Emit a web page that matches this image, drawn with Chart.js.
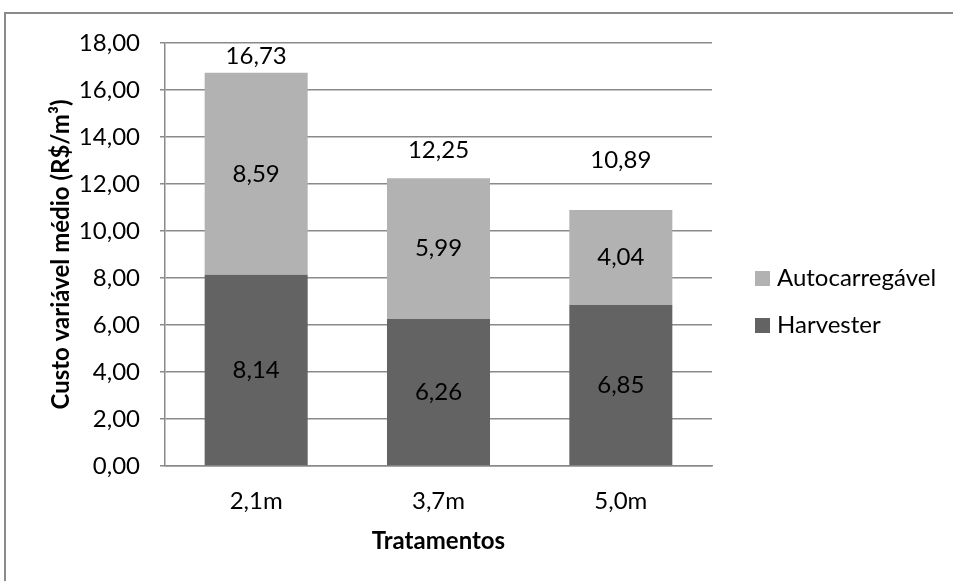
<!DOCTYPE html>
<html>
<head>
<meta charset="utf-8">
<script src="https://cdn.jsdelivr.net/npm/chart.js@4"></script>
<style>
  html, body { margin: 0; padding: 0; background: #fff; }
  #wrap { width: 953px; height: 581px; position: relative; }
</style>
</head>
<body>
<div id="wrap"><canvas id="myChart"></canvas></div>
<script>
const categories = ['2,1m', '3,7m', '5,0m'];
const harvester = [8.14, 6.26, 6.85];
const autocarregavel = [8.59, 5.99, 4.04];
const totals = [16.73, 12.25, 10.89];
const yTicks = [0, 2, 4, 6, 8, 10, 12, 14, 16, 18];

const FONT = 'Lato, "Open Sans", sans-serif';
const fmt = v => v.toFixed(2).replace('.', ',');

// total labels sit a bit above each bar, like the original
const totalLift = [17, 28, 50];

const framePlugin = {
  id: 'frame',
  beforeDraw(chart) {
    const ctx = chart.ctx;
    ctx.save();
    ctx.fillStyle = '#fff';
    ctx.fillRect(0, 0, chart.width, chart.height);
    ctx.strokeStyle = '#8a8a8a';
    ctx.lineWidth = 2;
    ctx.strokeRect(5, 13, 1100, 1100);
    ctx.restore();
  }
};

const labelPlugin = {
  id: 'labels',
  afterDatasetsDraw(chart) {
    const ctx = chart.ctx;
    ctx.save();
    ctx.font = '24px ' + FONT;
    ctx.fillStyle = '#000';
    ctx.textAlign = 'center';
    ctx.textBaseline = 'middle';
    chart.data.datasets.forEach((ds, di) => {
      const meta = chart.getDatasetMeta(di);
      meta.data.forEach((bar, i) => {
        ctx.fillText(fmt(ds.data[i]), bar.x, (bar.y + bar.base) / 2);
      });
    });
    const top = chart.getDatasetMeta(1).data;
    top.forEach((bar, i) => {
      ctx.fillText(fmt(totals[i]), bar.x, bar.y - totalLift[i]);
    });
    ctx.restore();
  }
};

const legendPlugin = {
  id: 'sideLegend',
  afterDraw(chart) {
    const ctx = chart.ctx;
    const items = [chart.data.datasets[1], chart.data.datasets[0]];
    ctx.save();
    ctx.font = '24px ' + FONT;
    ctx.textAlign = 'left';
    ctx.textBaseline = 'middle';
    items.forEach((ds, k) => {
      const y = 278 + k * 47;
      ctx.fillStyle = ds.backgroundColor;
      ctx.fillRect(755, y - 7, 15, 15);
      ctx.fillStyle = '#000';
      ctx.fillText(ds.label, 777, y);
    });
    ctx.restore();
  }
};

const ctx = document.getElementById('myChart').getContext('2d');
const myChart = new Chart(ctx, {
  type: 'bar',
  data: {
    labels: categories,
    datasets: [{
      label: 'Harvester',
      data: harvester,
      backgroundColor: '#636363'
    }, {
      label: 'Autocarregável',
      data: autocarregavel,
      backgroundColor: '#b2b2b2'
    }]
  },
  options: {
    responsive: true,
    maintainAspectRatio: false,
    animation: false,
    layout: { padding: { left: 30, top: 43, right: 241, bottom: 10 } },
    plugins: { legend: { display: false }, tooltip: { enabled: false } },
    datasets: { bar: { categoryPercentage: 1, barPercentage: 0.565 } },
    scales: {
      x: {
        stacked: true,
        grid: { display: false, drawTicks: false },
        border: { display: true, color: '#8a8a8a', width: 1.5 },
        ticks: { color: '#000', font: { family: FONT, size: 24 }, padding: 21 },
        title: {
          display: true, text: 'Tratamentos', color: '#000',
          font: { family: FONT, size: 24, weight: 'bold' },
          padding: { top: 0, bottom: 15 }
        },
        afterFit(scale) { scale.height = 105; }
      },
      y: {
        stacked: true,
        min: 0,
        max: 18,
        afterBuildTicks(scale) { scale.ticks = yTicks.map(v => ({ value: v })); },
        grid: { color: '#8a8a8a', lineWidth: 1.5, tickLength: 5, drawTicks: true },
        border: { display: true, color: '#8a8a8a', width: 1.5 },
        ticks: {
          color: '#000', font: { family: FONT, size: 24 }, padding: 20,
          callback: v => fmt(v)
        },
        title: {
          display: true, text: 'Custo variável médio (R$/m³)', color: '#000',
          font: { family: FONT, size: 24, weight: 'bold' },
          padding: { top: 17, bottom: 0 }
        },
        afterFit(scale) { scale.width = 135; }
      }
    }
  },
  plugins: [framePlugin, labelPlugin, legendPlugin]
});
</script>
</body>
</html>
